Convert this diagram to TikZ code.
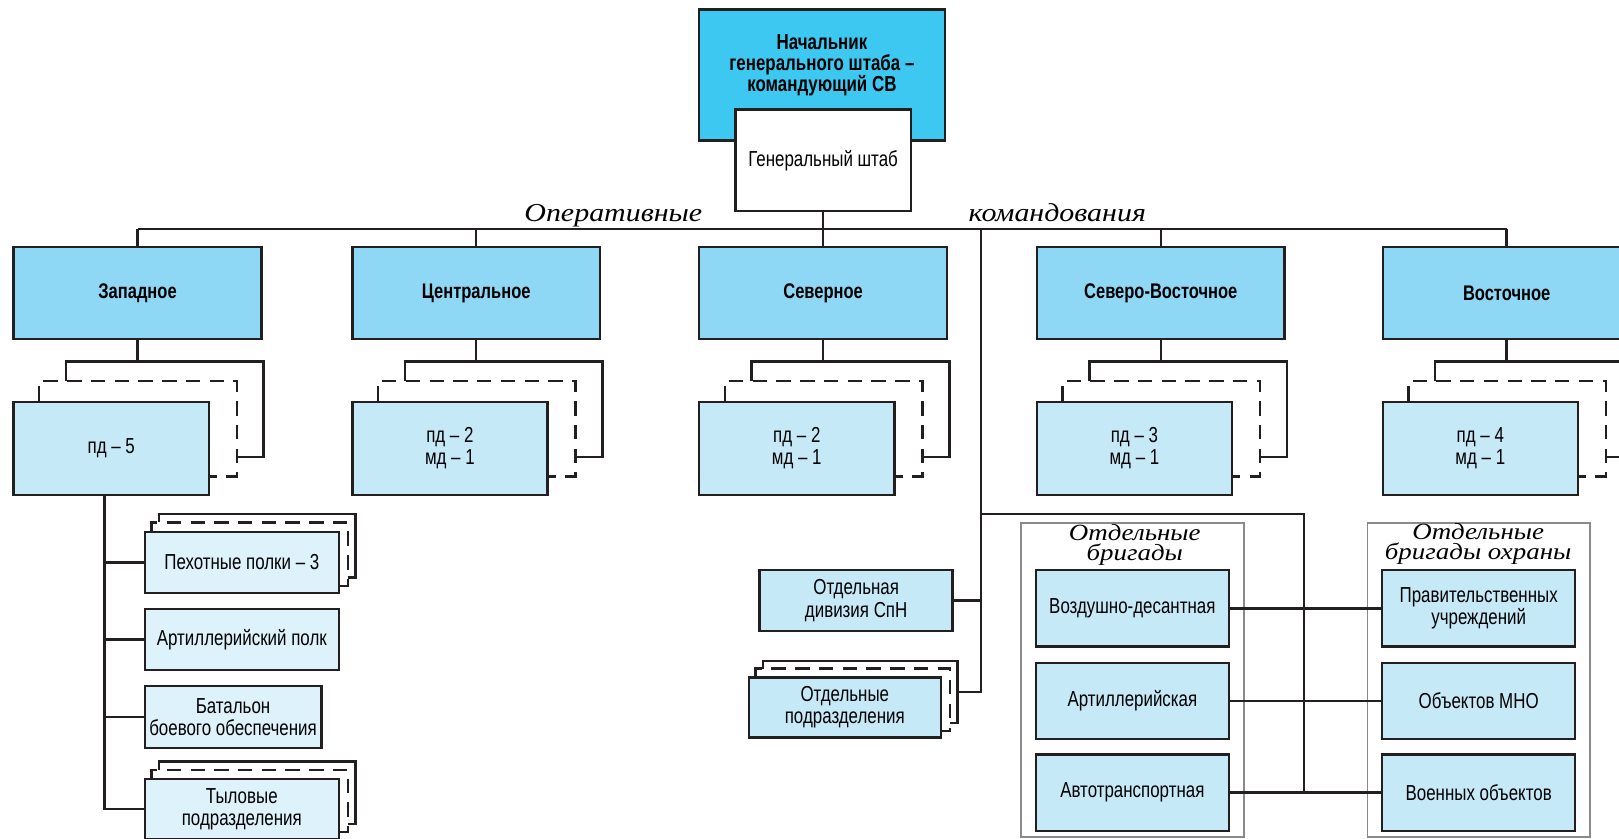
\documentclass[tikz,border=0pt]{standalone}
\usepackage{fontspec}
\setmainfont{Liberation Sans}[FakeStretch=0.78]
\newfontfamily\italfont{Liberation Serif}[FakeStretch=1.16]
\usetikzlibrary{calc,positioning}

\definecolor{linecol}{HTML}{231F20}
\definecolor{chiefcyan}{HTML}{3CC8F0}
\definecolor{cmdblue}{HTML}{8ED8F6}
\definecolor{divblue}{HTML}{C6E9F8}
\definecolor{unitblue}{HTML}{DDF2FB}
\definecolor{framegray}{HTML}{8A8A8A}

\tikzset{
  box/.style={draw=linecol, line width=2.4pt, inner sep=2pt, align=center, anchor=north west,
    font=\fontsize{21}{21.5}\selectfont},
  cmdbox/.style={box, fill=cmdblue, minimum width=240pt, minimum height=89pt,
    font=\bfseries\fontsize{20.5}{21}\selectfont},
  divbox/.style={box, fill=divblue, minimum width=189pt, minimum height=90pt},
  unitbox/.style={box, fill=unitblue, minimum width=188pt, minimum height=59pt},
  brigbox/.style={box, fill=divblue, minimum width=187pt, minimum height=74pt},
  link/.style={draw=linecol, line width=2.4pt},
  dashlayer/.style={link, dash pattern=on 14pt off 9pt},
  groupframe/.style={draw=framegray, line width=1.5pt, anchor=north west, inner sep=0pt},
  caption/.style={font=\italfont\itshape\fontsize{25}{20.5}\selectfont, align=center, inner sep=0pt},
  groupcap/.style={caption, font=\italfont\itshape\fontsize{22.5}{19}\selectfont},
}

% two copies behind a box: dashed one, then solid one
\newcommand\stackbehind[3]{%
  \draw[dashlayer] ($(#1.north west)+(#2,0)$) -- ++(0,-#3) -| ($(#1.south east)+(#2,-#3)$) -- ++(-#2,0);
  \draw[link] ($(#1.north west)+(2*#2,-#3)$) -- ++(0,-#3) -| ($(#1.south east)+(2*#2,-2*#3)$) -- ++(-#2,0);
  \coordinate (#1-back) at ($(#1.north west)+(2*#2,-2*#3)$);
  \coordinate (#1-backeast) at ($(#1.east)+(2*#2,-2*#3)$);
}

\begin{document}
\begin{tikzpicture}[x=1pt,y=-1pt]
\useasboundingbox (0,0) rectangle (1568,811.6);

\node[box, fill=chiefcyan, minimum width=238pt, minimum height=127pt] (chief) at (676,8) {};
\node[font=\bfseries\fontsize{21}{20.5}\selectfont, align=center] (chieftitle) at (796,63)
  {Начальник\\генерального штаба –\\командующий СВ};
\node[box, fill=white, minimum width=170pt, minimum height=98pt] (staff) at (711,105) {Генеральный штаб};

\coordinate (bar) at (0,222);
\draw[link] (staff.south) -- (staff.south |- bar);
\node[caption, anchor=base] (opcap1) at (594,215) {Оперативные};
\node[caption, anchor=base] (opcap2) at (1024,215) {командования};

\foreach \x/\n/\t/\d in {12/zapad/Западное/{пд – 5},
    340/centr/Центральное/{пд – 2\\мд – 1},
    676/sever/Северное/{пд – 2\\мд – 1},
    1003/sevvost/Северо-Восточное/{пд – 3\\мд – 1},
    1338/vostok/Восточное/{пд – 4\\мд – 1}} {
  \node[cmdbox] (\n) at (\x,238) {\t};
  \node[divbox] (\n-div) at (\x,388) {\d};
  \stackbehind{\n-div}{26}{19}
  \draw[link] (\n.south) -- (\n.south |- \n-div-back);
  \draw[link] (\n.north) -- (\n.north |- bar);
}
\draw[link] (zapad.north |- bar) -- (vostok.north |- bar);

% western units
\node[unitbox] (inf) at (139,514) {Пехотные полки – 3};
\stackbehind{inf}{7.5}{8}
\node[unitbox] (artreg) at (139,588.5) {Артиллерийский полк};
\node[unitbox, minimum width=171pt, minimum height=60pt] (combat) at (139,663) {Батальон\\боевого обеспечения};
\node[unitbox, minimum height=58pt] (rear) at (139,753.5) {Тыловые\\подразделения};
\stackbehind{rear}{7.5}{8}
\coordinate (ztrunk) at (101,478);
\draw[link] (ztrunk) |- (rear.west);
\foreach \n in {inf,artreg,combat}
  \draw[link] (ztrunk |- \n.west) -- (\n.west);

% separate units
\node[box, fill=divblue, minimum width=187pt, minimum height=59pt] (spn) at (734.5,551) {Отдельная\\дивизия СпН};
\node[box, fill=divblue, minimum width=186pt, minimum height=58pt] (sep) at (724,655) {Отдельные\\подразделения};
\stackbehind{sep}{7.5}{7.5}
\coordinate (mtrunk) at (950,222);
\draw[link] (mtrunk) |- (sep-backeast);
\draw[link] (spn.east) -- (spn.east -| mtrunk);

% brigades
\node[groupframe, minimum width=216pt, minimum height=304pt] (brigframe) at (988,506) {};
\node[groupcap] (brigcap) at (1099,528) {Отдельные\\бригады};
\foreach \y/\n/\t in {551/air/Воздушно-десантная, 640.7/artbr/Артиллерийская, 729.5/auto/Автотранспортная}
  \node[brigbox] (\n) at (1002,\y) {\t};

\node[groupframe, minimum width=215.5pt, minimum height=304pt] (guardframe) at (1323.5,506) {};
\node[groupcap] (guardcap) at (1431.6,527) {Отдельные\\бригады охраны};
\foreach \y/\n/\t in {551/gov/{Правительственных\\учреждений}, 640.7/mno/Объектов МНО, 729.5/mil/Военных объектов}
  \node[brigbox] (\n) at (1337.4,\y) {\t};

\coordinate (rtrunk) at (1263,498);
\draw[link] (mtrunk |- rtrunk) -| (rtrunk |- mil.west);
\foreach \a/\b in {air/gov, artbr/mno, auto/mil}
  \draw[link] (\a.east) -- (\b.west);
\end{tikzpicture}
\end{document}
